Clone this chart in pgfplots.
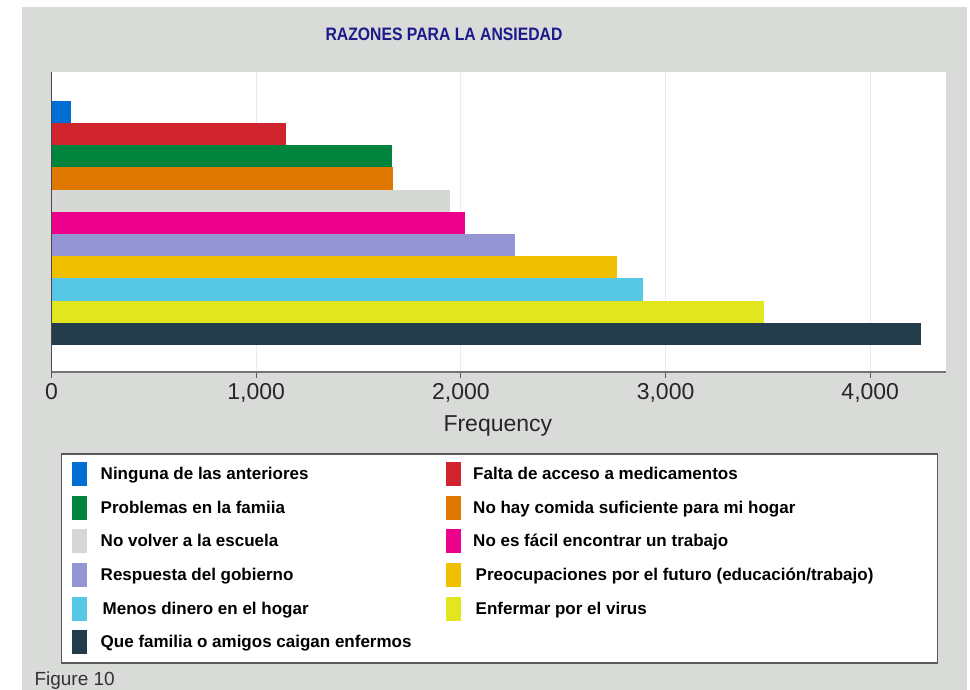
\documentclass[border=0pt]{standalone}
\usepackage{fontspec}
\setmainfont{Liberation Sans}
\newfontfamily\titlefont[FakeStretch=0.875]{Liberation Sans}
\usepackage{pgfplots}
\pgfplotsset{compat=1.18}

\definecolor{panel}{HTML}{D9DBD8}
\definecolor{gridc}{HTML}{E4EEF2}
\definecolor{titleblue}{HTML}{1A1A8A}
\definecolor{cBlue}{HTML}{006ED2}
\definecolor{cRed}{HTML}{D0252F}
\definecolor{cGreen}{HTML}{00843D}
\definecolor{cOrange}{HTML}{E07800}
\definecolor{cLgray}{HTML}{D6D8D5}
\definecolor{cPink}{HTML}{EC008C}
\definecolor{cLav}{HTML}{9495D3}
\definecolor{cGold}{HTML}{F0C000}
\definecolor{cCyan}{HTML}{56C8E6}
\definecolor{cYellow}{HTML}{E1E61E}
\definecolor{cDark}{HTML}{233C4C}

% one horizontal bar per category, legend swatch as a tall block
\pgfplotsset{
  hb/.style={xbar, bar width=1, bar shift=0pt, draw=none, fill=#1,
    legend image code/.code={\fill[##1] (0pt,-12pt) rectangle (15pt,12pt);}},
}
\newcommand{\lcol}[2][14pt]{\makebox[359pt][l]{\hspace{#1}#2}}
\newcommand{\rcol}[2][12.5pt]{\makebox[467pt][l]{\hspace{#1}#2}}

\begin{document}
\begin{tikzpicture}[x=1pt,y=1pt]
\path[use as bounding box] (0,0) rectangle (970,690);
\fill[white] (0,0) rectangle (970,690);
\fill[panel] (22,0) rectangle (967,683);

\begin{axis}[
    at={(51.5pt,318pt)}, anchor=south west,
    scale only axis,
    width=894.5pt, height=300pt,
    axis background/.style={fill=white},
    xmin=0, xmax=4370,
    ymin=-0.79, ymax=12.71,
    y dir=reverse,
    axis x line*=bottom, axis y line*=left,
    x axis line style={draw=black!55, line width=2.2pt},
    y axis line style={draw=black!70, line width=1.5pt},
    xtick={0,1000,2000,3000,4000},
    ytick=\empty,
    xtick align=outside,
    major tick length=6pt,
    every tick/.style={draw=black!65, line width=1pt},
    xmajorgrids,
    major grid style={draw=gridc, line width=1pt},
    /pgf/number format/assume math mode=true,
    /pgf/number format/1000 sep={,},
    xticklabel style={font=\fontsize{23}{26}\selectfont, text=black!85},
    xticklabel shift=2pt,
    xlabel={Frequency},
    xlabel style={at={(axis description cs:0.499,0)}, anchor=base, yshift=-59pt,
      font=\fontsize{23}{26}\selectfont, text=black!85},
    title={RAZONES PARA LA ANSIEDAD},
    title style={at={(axis description cs:0.4388,1.1067)}, anchor=center,
      font=\titlefont\bfseries\fontsize{18}{20}\selectfont, text=titleblue},
    legend columns=2,
    legend style={at={(axis description cs:0.0106,-0.27)}, anchor=north west,
      draw=black!65, line width=1.5pt, fill=white,
      inner xsep=10pt, inner ysep=8.5pt,
      row sep=9.6pt, column sep=0pt,
      nodes={inner sep=0pt, font=\fontsize{17}{20}\selectfont\bfseries}},
    legend cell align=left,
]
\addplot[hb=cBlue]   coordinates {(95,1)};
\addlegendentry{\lcol{Ninguna de las anteriores}}
\addplot[hb=cRed]    coordinates {(1146,2)};
\addlegendentry{\rcol{Falta de acceso a medicamentos}}
\addplot[hb=cGreen]  coordinates {(1662,3)};
\addlegendentry{\lcol{Problemas en la famiia}}
\addplot[hb=cOrange] coordinates {(1670,4)};
\addlegendentry{\rcol{No hay comida suficiente para mi hogar}}
\addplot[hb=cLgray]  coordinates {(1947,5)};
\addlegendentry{\lcol{No volver a la escuela}}
\addplot[hb=cPink]   coordinates {(2020,6)};
\addlegendentry{\rcol{No es fácil encontrar un trabajo}}
\addplot[hb=cLav]    coordinates {(2264,7)};
\addlegendentry{\lcol{Respuesta del gobierno}}
\addplot[hb=cGold]   coordinates {(2763,8)};
\addlegendentry{\rcol[15pt]{Preocupaciones por el futuro (educación/trabajo)}}
\addplot[hb=cCyan]   coordinates {(2891,9)};
\addlegendentry{\lcol[16pt]{Menos dinero en el hogar}}
\addplot[hb=cYellow] coordinates {(3482,10)};
\addlegendentry{\rcol[15pt]{Enfermar por el virus}}
\addplot[hb=cDark]   coordinates {(4248,11)};
\addlegendentry{\lcol{Que familia o amigos caigan enfermos}}
\end{axis}

\node[anchor=base west, font=\fontsize{19}{22}\selectfont, text=black!80] at (31,4) {Figure 10};
\end{tikzpicture}
\end{document}
